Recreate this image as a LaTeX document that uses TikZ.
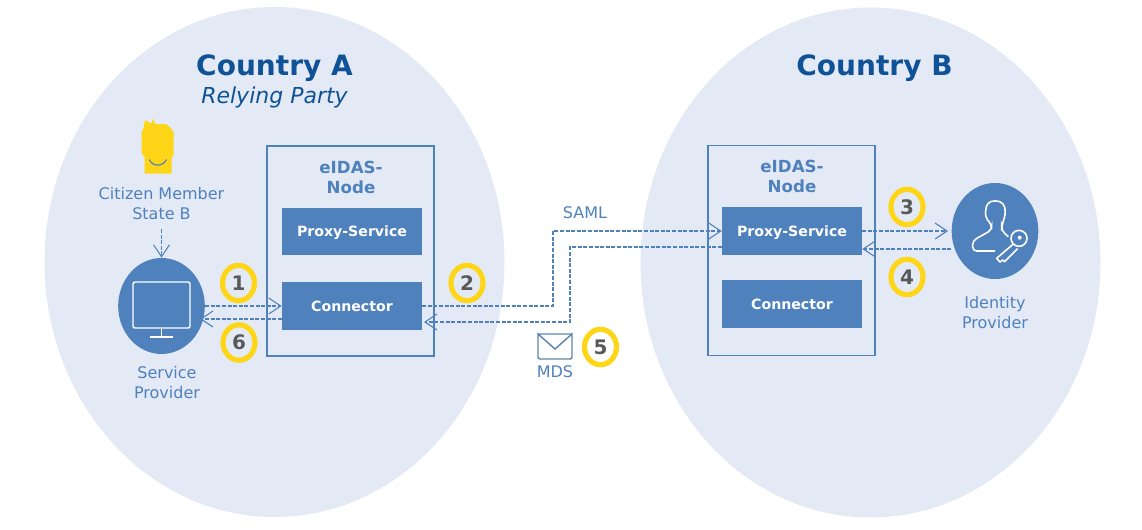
\documentclass[tikz,border=0pt]{standalone}
\usepackage{fontspec}
\setmainfont{DejaVu Sans}
\usetikzlibrary{arrows.meta,positioning,shapes.geometric}

\definecolor{landfill}{HTML}{E4EAF5}
\definecolor{boxblue}{HTML}{4F81BD}
\definecolor{headblue}{HTML}{0F5297}
\definecolor{ringyellow}{HTML}{FFD617}
\definecolor{numgray}{HTML}{595959}
\definecolor{mailblue}{HTML}{5F86AE}

\tikzset{
  land/.style={ellipse,fill=landfill,minimum width=345pt,minimum height=382.5pt,inner sep=0pt},
  title/.style={text=headblue,font=\bfseries\fontsize{21}{25}\selectfont},
  label/.style={text=boxblue,font=\fontsize{12}{15}\selectfont,align=center},
  eidlabel/.style={text=boxblue,font=\bfseries\fontsize{12.5}{15}\selectfont,align=center},
  nodebox/.style={draw=boxblue,line width=0.8pt,minimum width=125.25pt,minimum height=157.5pt,inner sep=0pt},
  part/.style={fill=boxblue,text=white,font=\bfseries\fontsize{10.6}{12}\selectfont,minimum width=105pt,minimum height=35.5pt,inner sep=0pt,text height=7.5pt,text depth=0pt},
  actor/.style={ellipse,fill=boxblue,minimum width=65pt,minimum height=72pt,inner sep=0pt},
  ring/.style={ellipse,draw=ringyellow,line width=3.9pt,text=numgray,font=\bfseries\fontsize{15}{16}\selectfont,minimum width=24pt,minimum height=26.5pt,inner sep=0pt},
  flow/.style={->,dashed,dash pattern=on 3pt off 1.2pt,draw=boxblue,line width=1pt},
  >={Straight Barb[length=9pt,width=12pt,line width=0.8pt]}
}

\begin{document}
\begin{tikzpicture}[x=0.75pt,y=-0.75pt]
  \useasboundingbox (0,0) rectangle (1142,529);
  \node[land] (landa) at (274.5,262) {};
  \node[land] (landb) at (870.5,262.5) {};
  \node[title] (ca) at (274.5,68) {Country A};
  \node[text=headblue,font=\itshape\fontsize{16.5}{20}\selectfont] (rp) at (274.5,97) {Relying Party};
  \node[title] (cb) at (874.5,68) {Country B};

  \node[nodebox] (eida) at (350.5,251) {};
  \node[nodebox] (eidb) at (791.5,250.5) {};
  \node[eidlabel] (ela) at (351,177) {eIDAS-\\Node};
  \node[eidlabel] (elb) at (792,176) {eIDAS-\\Node};
  \node[part] (proxa) at (352,231.5) {Proxy-Service};
  \node[part] (conna) at (352,306) {Connector};
  \node[part] (proxb) at (792,231) {Proxy-Service};
  \node[part] (connb) at (792,304) {Connector};

  \node[actor] (sp) at (161.5,306) {};
  \node[actor] (idp) at (995,231) {};
  \node[label] (citl) at (161.5,204) {Citizen Member\\State B};
  \node[label] (spl) at (167,383) {Service\\Provider};
  \node[label] (idl) at (995,312.5) {Identity\\Provider};
  \node[label] (saml) at (585,213) {SAML};
  \node[label] (mds) at (555,371.5) {MDS};

  % citizen
  \coordinate (citb) at (161.5,229);
  \fill[ringyellow] (143,130) -- (145,120) -- (151.5,123.5) -- (153.5,118.5) -- (155,124) -- (166.5,124) -- (173.5,131.5) -- (173.5,155) -- (171.5,158.5) -- (171.5,173.5) -- (144.5,173.5) -- (144.5,157) -- (141.5,153) -- (141.5,131) -- cycle;
  \draw[boxblue,line width=0.9pt] (149.5,159.5) .. controls (152,167) and (163,167) .. (166.5,159.5);

  % monitor
  \draw[white,line width=1.1pt,rounded corners=1.5pt] (133,282) rectangle (190,328);
  \draw[white,line width=1.1pt] (161.5,328) -- (161.5,337) (150,337) -- (173,337);

  % person and key
  \begin{scope}[shift={(850,170)},x=0.25pt,y=-0.25pt,white,line width=1.2pt]
    \draw[rounded corners=3pt] (435,243) -- (368,243) -- (368,212) -- (425,180) -- (425,165) -- (405,140) -- (410,100) -- (435,90) -- (462,100) -- (467,130) -- (455,170) -- (455,182) -- (475,200);
    \draw (507,205) circle (24);
    \fill (509,203) circle (6);
    \draw[line join=round] (490,222) -- (440,265) -- (450,276) -- (458,270) -- (464,275) -- (503,236);
  \end{scope}

  % mail
  \node[draw=mailblue,fill=white,line width=1.1pt,rounded corners=1.5pt,minimum width=25.5pt,minimum height=18.75pt,inner sep=0pt] (mail) at (555,346.5) {};
  \draw[mailblue,line width=1.1pt] (mail.north west) -- (555,349) -- (mail.north east);

  \coordinate (a1) at (553,306);
  \coordinate (a2) at (553,231);
  \coordinate (b1) at (570,247);
  \coordinate (b2) at (570,322);
  \coordinate (sp6) at (200,319);
  \coordinate (ca6) at (424,322);
  \coordinate (idp3) at (948,231);

  \draw[flow] (citb) -- (sp.north);
  \draw[flow] (sp.east) -- (conna.west);
  \draw[flow] (conna.west |- sp6) -- (sp6);
  \draw[flow] (conna.east) -- (a1) -- (a2) -- (proxb.west);
  \draw[flow] (proxb.west |- b1) -- (b1) -- (b2) -- (ca6);
  \draw[flow] (proxb.east) -- (idp3);
  \draw[flow] (idp.west |- 0,249) -- (proxb.east |- 0,249);

  \node[ring] (n1) at (238.5,283) {1};
  \node[ring] (n6) at (239,342.5) {6};
  \node[ring] (n2) at (467,283) {2};
  \node[ring] (n5) at (600.5,347) {5};
  \node[ring] (n3) at (907,207) {3};
  \node[ring] (n4) at (907,277) {4};
\end{tikzpicture}
\end{document}
